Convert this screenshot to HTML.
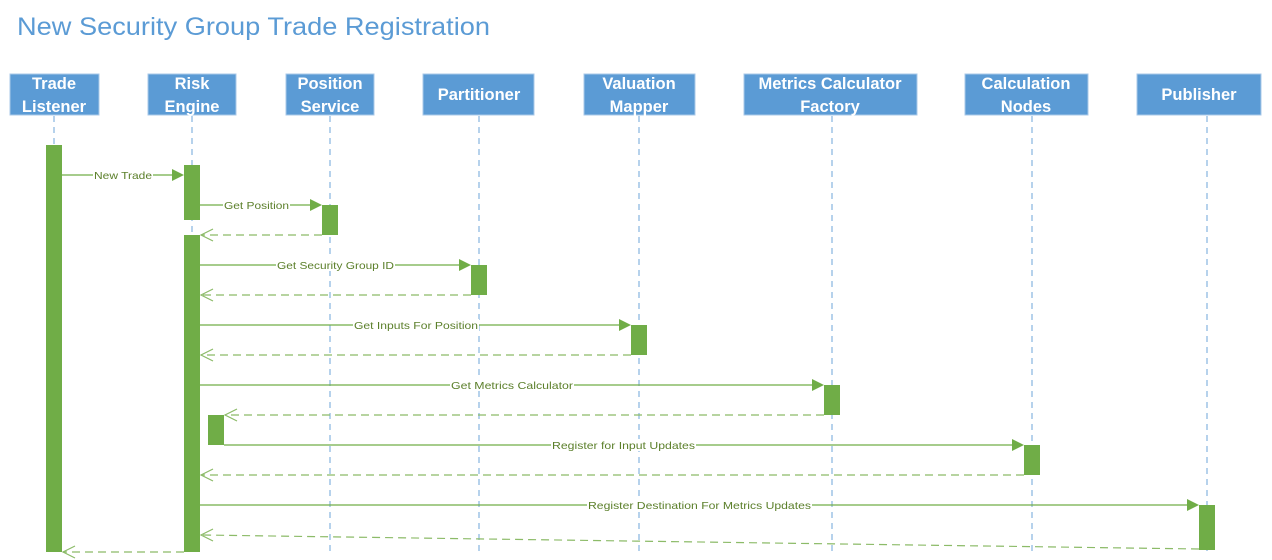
<!DOCTYPE html>
<html><head><meta charset="utf-8"><style>
html,body{margin:0;padding:0;background:#fff;}
svg{display:block;}
.h{font-family:"Liberation Sans",sans-serif;font-weight:bold;font-size:16.5px;fill:#fff;text-anchor:middle;}
.l{font-family:"Liberation Sans",sans-serif;font-size:10.5px;fill:#5b7f2a;}
</style></head><body>
<svg width="1272" height="560" viewBox="0 0 1272 560" xmlns="http://www.w3.org/2000/svg">
<text x="17" y="35" font-family="Liberation Sans,sans-serif" font-size="25" fill="#5b9bd5" textLength="473" lengthAdjust="spacingAndGlyphs">New Security Group Trade Registration</text>
<g fill="#5b9bd5" stroke="#a9c8e8" stroke-width="1">
<rect x="10" y="74" width="89" height="41"/>
<rect x="148" y="74" width="88" height="41"/>
<rect x="286" y="74" width="88" height="41"/>
<rect x="423" y="74" width="111" height="41"/>
<rect x="584" y="74" width="111" height="41"/>
<rect x="744" y="74" width="173" height="41"/>
<rect x="965" y="74" width="123" height="41"/>
<rect x="1137" y="74" width="124" height="41"/>
</g>
<text class="h" x="54" y="89">Trade</text><text class="h" x="54" y="112">Listener</text>
<text class="h" x="192" y="89">Risk</text><text class="h" x="192" y="112">Engine</text>
<text class="h" x="330" y="89">Position</text><text class="h" x="330" y="112">Service</text>
<text class="h" x="479" y="100">Partitioner</text>
<text class="h" x="639" y="89">Valuation</text><text class="h" x="639" y="112">Mapper</text>
<text class="h" x="830" y="89">Metrics Calculator</text><text class="h" x="830" y="112">Factory</text>
<text class="h" x="1026" y="89">Calculation</text><text class="h" x="1026" y="112">Nodes</text>
<text class="h" x="1199" y="100">Publisher</text>
<g stroke="#9dc3e6" stroke-width="1.5" stroke-dasharray="6,5">
<line x1="54" y1="116" x2="54" y2="552"/>
<line x1="192" y1="116" x2="192" y2="552"/>
<line x1="330" y1="116" x2="330" y2="552"/>
<line x1="479" y1="116" x2="479" y2="552"/>
<line x1="639" y1="116" x2="639" y2="552"/>
<line x1="832" y1="116" x2="832" y2="552"/>
<line x1="1032" y1="116" x2="1032" y2="552"/>
<line x1="1207" y1="116" x2="1207" y2="552"/>
</g>
<g fill="#70ad47">
<rect x="46" y="145" width="16" height="407"/>
<rect x="184" y="165" width="16" height="55"/>
<rect x="184" y="235" width="16" height="317"/>
<rect x="322" y="205" width="16" height="30"/>
<rect x="471" y="265" width="16" height="30"/>
<rect x="631" y="325" width="16" height="30"/>
<rect x="824" y="385" width="16" height="30"/>
<rect x="208" y="415" width="16" height="30"/>
<rect x="1024" y="445" width="16" height="30"/>
<rect x="1199" y="505" width="16" height="45"/>
</g>
<g stroke="#70ad47" stroke-width="1.2" fill="none">
<line x1="62" y1="175" x2="172" y2="175"/>
<line x1="200" y1="205" x2="310" y2="205"/>
<line x1="200" y1="265" x2="459" y2="265"/>
<line x1="200" y1="325" x2="619" y2="325"/>
<line x1="200" y1="385" x2="812" y2="385"/>
<line x1="224" y1="445" x2="1012" y2="445"/>
<line x1="200" y1="505" x2="1187" y2="505"/>
</g>
<g fill="#70ad47">
<polygon points="172,169 184,175 172,181"/>
<polygon points="310,199 322,205 310,211"/>
<polygon points="459,259 471,265 459,271"/>
<polygon points="619,319 631,325 619,331"/>
<polygon points="812,379 824,385 812,391"/>
<polygon points="1012,439 1024,445 1012,451"/>
<polygon points="1187,499 1199,505 1187,511"/>
</g>
<g stroke="#8cbb68" stroke-width="1.2" fill="none" stroke-dasharray="8,5">
<line x1="322" y1="235" x2="201" y2="235"/>
<line x1="471" y1="295" x2="201" y2="295"/>
<line x1="631" y1="355" x2="201" y2="355"/>
<line x1="824" y1="415" x2="225" y2="415"/>
<line x1="1024" y1="475" x2="201" y2="475"/>
<line x1="1199" y1="549" x2="201" y2="535"/>
<line x1="184" y1="552" x2="63" y2="552"/>
</g>
<g stroke="#8cbb68" stroke-width="1.2" fill="none">
<polyline points="213,229 201,235 213,241"/>
<polyline points="213,289 201,295 213,301"/>
<polyline points="213,349 201,355 213,361"/>
<polyline points="237,409 225,415 237,421"/>
<polyline points="213,469 201,475 213,481"/>
<polyline points="213,529 201,535 213,541"/>
<polyline points="75,546 63,552 75,558"/>
</g>
<g fill="#fff">
<rect x="93" y="169" width="60" height="12"/>
<rect x="223" y="199" width="67" height="12"/>
<rect x="276" y="259" width="119" height="12"/>
<rect x="353" y="319" width="126" height="12"/>
<rect x="450" y="379" width="124" height="12"/>
<rect x="551" y="439" width="145" height="12"/>
<rect x="587" y="499" width="225" height="12"/>
</g>
<text class="l" x="94" y="179" textLength="58" lengthAdjust="spacingAndGlyphs">New Trade</text>
<text class="l" x="224" y="209" textLength="65" lengthAdjust="spacingAndGlyphs">Get Position</text>
<text class="l" x="277" y="269" textLength="117" lengthAdjust="spacingAndGlyphs">Get Security Group ID</text>
<text class="l" x="354" y="329" textLength="124" lengthAdjust="spacingAndGlyphs">Get Inputs For Position</text>
<text class="l" x="451" y="389" textLength="122" lengthAdjust="spacingAndGlyphs">Get Metrics Calculator</text>
<text class="l" x="552" y="449" textLength="143" lengthAdjust="spacingAndGlyphs">Register for Input Updates</text>
<text class="l" x="588" y="509" textLength="223" lengthAdjust="spacingAndGlyphs">Register Destination For Metrics Updates</text>
</svg>
</body></html>
